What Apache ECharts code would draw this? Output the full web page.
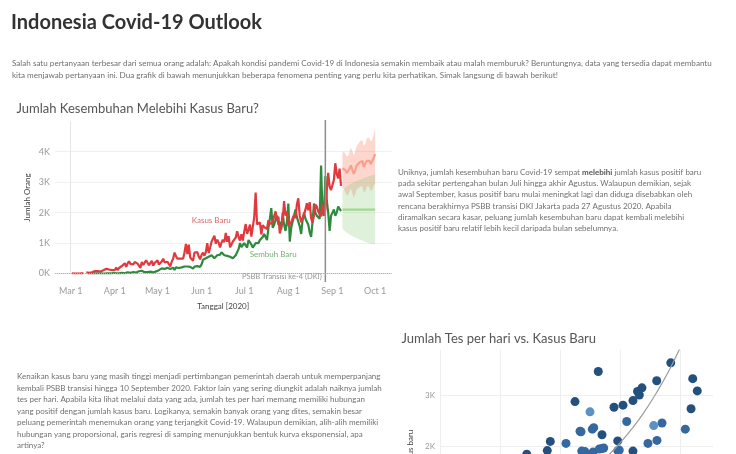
<!DOCTYPE html>
<html><head><meta charset="utf-8">
<script src="https://cdn.jsdelivr.net/npm/echarts@6/dist/echarts.min.js"></script>
<style>html,body{margin:0;padding:0;background:#fff}#c{width:736px;height:454px}</style>
</head><body><div id="c"></div>
<script>
// ---------- DATA ----------
// x values are days since 1 March 2020
const xTickDays   = [0, 31, 61, 92, 122, 153, 184, 214];
const xTickLabels = ['Mar 1','Apr 1','May 1','Jun 1','Jul 1','Aug 1','Sep 1','Oct 1'];

const kasusStartDay = 1;   // 2 Mar 2020
const kasusBaru = [
  2,0,0,2,0,2,2,13,8,null,35,27,21,17,38,55,82,60,81,64,65,106,105,103,153,109,130,129,114,149,
  113,196,106,181,218,247,218,337,219,330,399,316,282,297,380,407,325,327,185,375,283,357,436,396,275,214,415,260,347,347,
  433,292,349,395,484,367,336,386,387,233,387,484,689,568,490,529,489,496,486,693,973,634,949,526,479,415,686,687,700,557,467,
  609,684,585,703,993,672,847,1043,1014,1241,979,1111,1014,857,1017,1106,1031,1331,1041,1226,862,954,1051,1113,1178,1385,1198,1082,1293,1082,
  1385,1624,1301,1447,1607,1209,1268,1853,2657,1611,1671,1681,1282,1591,1522,1574,1462,1752,1639,1693,1655,1882,2040,1761,1868,1315,1525,1748,2381,1904,2040,
  1560,1519,1679,1815,1922,1815,2277,2473,1893,1687,1693,1942,2098,2307,2081,2345,1821,1673,1902,2266,2197,2037,2079,1877,2300,1900,2100,2719,3308,2858,2743,
  2775,3075,3622,3269,3128,3444,2880
];

const sembuhStartDay = 12; // 13 Mar 2020
const sembuhBaru = [
  3,0,1,0,4,2,3,0,3,3,1,0,0,3,2,0,1,13,16,
  22,9,15,5,11,18,6,6,27,41,18,22,45,48,40,32,65,73,56,91,51,42,44,48,43,61,41,35,82,69,
  120,110,150,170,200,150,160,190,130,150,170,190,120,200,230,180,190,200,170,230,200,230,210,220,250,160,230,200,240,300,220,
  300,450,470,500,480,550,520,600,560,500,540,600,650,620,700,640,600,550,580,570,550,540,500,520,600,650,800,1000,870,900,
  1000,950,850,1100,1050,950,850,800,1000,1050,1000,1100,1050,1200,1300,1350,1100,1500,1800,2150,1500,1600,1750,1900,1600,1700,1450,2000,1600,1400,1700,
  2300,1050,1500,1700,1900,2100,1850,1800,1550,1300,1750,2000,1800,1700,1600,1350,1200,1700,2300,2000,1900,1900,1800,3550,2000,1900,3200,2400,2000,1400,1900,
  2000,2100,1900,2000,2200,2150,2050
];

const forecastStartDay = 191; // 8 Sep 2020 .. 1 Oct 2020
const kasusForecast = [3450,3500,3400,3300,3300,3450,3550,3400,3270,3400,3550,3600,3650,3700,3700,3500,3550,3700,3760,3700,3600,3650,3800,3920];
const kasusUpper    = [3950,4020,3930,3850,3860,4020,4140,4000,3880,4020,4190,4250,4310,4370,4380,4190,4250,4410,4480,4430,4340,4400,4560,4780];
const kasusLower    = [2750,2790,2680,2570,2560,2700,2790,2630,2490,2610,2750,2790,2830,2870,2860,2650,2690,2830,2880,2810,2700,2740,2880,2950];
const sembuhForecast= [2100,2100,2100,2100,2100,2100,2100,2100,2100,2100,2100,2100,2100,2100,2100,2100,2100,2100,2100,2100,2100,2100,2100,2100];
const sembuhUpper   = [2720,2780,2820,2860,2890,2920,2950,2970,3000,3020,3040,3060,3080,3100,3120,3140,3160,3170,3190,3200,3220,3230,3240,3250];
const sembuhLower   = [1480,1420,1380,1340,1310,1280,1250,1230,1200,1180,1160,1140,1120,1100,1080,1060,1040,1030,1010,1000,980,970,960,950];

const psbbDay = 179; // 27 Aug 2020

// Scatter: [tes per hari, kasus baru, shade]
const tesVsKasus = [
  [13190,3460,2],[19230,3630,2],[18060,3280,2],[21060,3320,2],[21440,3080,2],[20920,2730,2],
  [20440,2330,1],[18500,2450,1],[17810,2400,0],[18080,2110,1],[17330,2050,1],[16830,3140,2],
  [16460,3070,2],[16610,3000,2],[16080,2890,2],[15250,2800,2],[14500,2760,2],[11250,2870,2],
  [12500,2670,0],[15560,2480,1],[13500,2220,2],[12690,2330,1],[12810,2360,1],[11670,2290,1],
  [11750,2280,1],[9190,2090,2],[10500,2050,1],[8940,1910,2],[7230,1840,2],[11810,1900,1],
  [12080,1890,1],[12750,1880,1],[13280,1940,1],[13500,1950,1],[13640,1960,1],[14810,1910,1],
  [14940,1920,1],[14810,2100,2],[16080,1900,2]
];
const trendLine = [[13000,1590],[14000,1810],[15000,2060],[16000,2340],[17000,2660],[18000,3030],[19000,3440],[20000,3920]];

// ---------- TEXT ----------
const introText = [
  'Salah satu pertanyaan terbesar dari semua orang adalah: Apakah kondisi pandemi Covid-19 di Indonesia semakin membaik atau malah memburuk? Beruntungnya, data yang tersedia dapat membantu',
  'kita menjawab pertanyaan ini. Dua grafik di bawah menunjukkan beberapa fenomena penting yang perlu kita perhatikan. Simak langsung di bawah berikut!'
];
const rightText = [
  'Uniknya, jumlah kesembuhan baru Covid-19 sempat {b|melebihi} jumlah kasus positif baru',
  'pada sekitar pertengahan bulan Juli hingga akhir Agustus. Walaupun demikian, sejak',
  'awal September, kasus positif baru mulai meningkat lagi dan diduga disebabkan oleh',
  'rencana berakhirnya PSBB transisi DKI Jakarta pada 27 Agustus 2020. Apabila',
  'diramalkan secara kasar, peluang jumlah kesembuhan baru dapat kembali melebihi',
  'kasus positif baru relatif lebih kecil daripada bulan sebelumnya.'
];
const bottomText = [
  'Kenaikan kasus baru yang masih tinggi menjadi pertimbangan pemerintah daerah untuk memperpanjang',
  'kembali PSBB transisi hingga 10 September 2020. Faktor lain yang sering diungkit adalah naiknya jumlah',
  'tes per hari. Apabila kita lihat melalui data yang ada, jumlah tes per hari memang memiliki hubungan',
  'yang positif dengan jumlah kasus baru. Logikanya, semakin banyak orang yang dites, semakin besar',
  'peluang pemerintah menemukan orang yang terjangkit Covid-19. Walaupun demikian, alih-alih memiliki',
  'hubungan yang proporsional, garis regresi di samping menunjukkan bentuk kurva eksponensial, apa',
  'artinya?',
  'Kurva yang semakin curam menunjukkan bahwa peningkatan jumlah tes yang sedikit diikuti dengan'
];

// ---------- BUILD ----------
const F = 'Lato';
const seq = (start, arr) => arr.map((v, i) => [start + i, v]);
const xMin = -11.04, xMax = 225.5;
const shadeColors = ['#5d91c6', '#3568a0', '#24507e'];

function bandSeries(name, lower, upper, color) {
  const data = lower.map((lo, i) => [forecastStartDay + i, lo, upper[i]]);
  return {
    type: 'custom', name, xAxisIndex: 0, yAxisIndex: 0, silent: true, data,
    encode: {x: 0, y: [1, 2]},
    renderItem: (params, api) => {
      if (params.dataIndex !== 0) return null;
      const top = data.map(d => api.coord([d[0], d[2]]));
      const bot = data.map(d => api.coord([d[0], d[1]])).reverse();
      return {type: 'polygon', shape: {points: top.concat(bot)}, style: {fill: color}};
    }
  };
}

const chart = echarts.init(document.getElementById('c'), null, {renderer: 'canvas', width: 736, height: 454});

chart.setOption({
  animation: false,
  backgroundColor: '#ffffff',
  textStyle: {fontFamily: F},
  grid: [
    {left: 55, right: 344.5, top: 121.6, bottom: 180.5},
    {left: 55, right: 344.5, top: 120, bottom: 172},
    {left: 440, top: 350, width: 273, bottom: 0}
  ],
  xAxis: [
    {gridIndex: 0, type: 'value', min: xMin, max: xMax, offset: 8,
     axisLine: {show: true, lineStyle: {color: '#e4e4e4'}}, axisTick: {show: false}, splitLine: {show: false},
     axisLabel: {customValues: xTickDays, color: '#9a9a9a', fontSize: 9, fontFamily: F, margin: 5,
       formatter: v => { const i = xTickDays.indexOf(Math.round(v)); return i >= 0 ? xTickLabels[i] : ''; }},
     name: 'Tanggal [2020]', nameLocation: 'middle', nameGap: 21,
     nameTextStyle: {color: '#444', fontSize: 8, fontFamily: F}},
    {gridIndex: 1, type: 'value', min: xMin, max: xMax, show: false},
    {gridIndex: 2, type: 'value', min: 0, max: 22750, interval: 5000,
     axisLine: {show: false}, axisTick: {show: false},
     axisLabel: {show: false},
     splitLine: {show: true, showMaxLine: false, lineStyle: {color: '#eeeeee'}}}
  ],
  yAxis: [
    {gridIndex: 0, type: 'value', min: 0, max: 4990, interval: 1000,
     axisLine: {show: true, lineStyle: {color: '#e4e4e4'}}, axisTick: {show: false},
     axisLabel: {color: '#9a9a9a', fontSize: 9, fontFamily: F, margin: 5, showMaxLabel: false,
       formatter: v => (v / 1000) + 'K'},
     splitLine: {show: true, showMinLine: false, showMaxLine: false, lineStyle: {color: '#f0f0f0'}},
     name: 'Jumlah Orang', nameLocation: 'middle', nameGap: 24,
     nameTextStyle: {color: '#444', fontSize: 8, fontFamily: F}},
    {gridIndex: 1, type: 'value', min: 0, max: 1, show: false},
    {gridIndex: 2, type: 'value', min: 1843, max: 3882, minInterval: 1000, maxInterval: 1000, splitNumber: 2,
     axisLine: {show: false}, axisTick: {show: false},
     axisLabel: {color: '#9a9a9a', fontSize: 8, fontFamily: F, margin: 5, showMaxLabel: false, showMinLabel: false,
       formatter: v => (v / 1000) + 'K'},
     splitLine: {show: true, showMinLine: false, showMaxLine: false, lineStyle: {color: '#eeeeee'}}}
  ],
  series: [
    bandSeries('Kasus Band', kasusLower, kasusUpper, 'rgba(249,140,115,0.35)'),
    bandSeries('Sembuh Band', sembuhLower, sembuhUpper, 'rgba(120,195,105,0.24)'),
    {name: 'Sembuh Forecast', type: 'line', xAxisIndex: 0, yAxisIndex: 0, showSymbol: false, symbol: 'none', silent: true,
     data: seq(forecastStartDay, sembuhForecast), lineStyle: {color: '#a2d98f', width: 2.2}},
    {name: 'Kasus Forecast', type: 'line', xAxisIndex: 0, yAxisIndex: 0, showSymbol: false, symbol: 'none', silent: true,
     data: seq(forecastStartDay, kasusForecast), lineStyle: {color: '#f9a08c', width: 2.2}},
    {name: 'Sembuh Baru', type: 'line', xAxisIndex: 0, yAxisIndex: 0, showSymbol: false, symbol: 'none', silent: true,
     data: seq(sembuhStartDay, sembuhBaru), lineStyle: {color: '#2f8a3d', width: 2.2}},
    {name: 'Kasus Baru', type: 'line', xAxisIndex: 0, yAxisIndex: 0, showSymbol: false, symbol: 'none', silent: true,
     data: seq(kasusStartDay, kasusBaru), lineStyle: {color: '#e0393e', width: 2.2}},
    {name: 'PSBB', type: 'line', xAxisIndex: 1, yAxisIndex: 1, showSymbol: false, symbol: 'none', silent: true,
     data: [[psbbDay, 0], [psbbDay, 1]], lineStyle: {color: '#8e8e8e', width: 1.5}},
    {name: 'helper', type: 'scatter', xAxisIndex: 0, yAxisIndex: 0, silent: true, symbolSize: 1,
     itemStyle: {color: 'rgba(0,0,0,0)'},
     data: [[psbbDay - 0.8, 0]],
     label: {show: true, position: 'left', distance: 2, offset: [0, 3], formatter: 'PSBB Transisi ke-4 (DKI)',
       color: '#7a7a7a', fontSize: 7.5, fontFamily: F},
     markLine: {symbol: 'none', silent: true, label: {show: false},
       lineStyle: {type: 'dotted', color: '#b0b0b0', width: 1},
       data: [{yAxis: 0}]}},
    {name: 'labels', type: 'scatter', xAxisIndex: 0, yAxisIndex: 0, silent: true, symbolSize: 1,
     itemStyle: {color: 'rgba(0,0,0,0)'},
     data: [
       {value: [98.8, 1740], label: {formatter: 'Kasus Baru', color: '#e0393e'}},
       {value: [142.3, 615], label: {formatter: 'Sembuh Baru', color: '#4a9d47'}}
     ],
     label: {show: true, position: 'inside', fontSize: 8, fontFamily: F}},
    {name: 'Tes vs Kasus', type: 'scatter', xAxisIndex: 2, yAxisIndex: 2, silent: true, symbolSize: 9, clip: false,
     data: tesVsKasus,
     itemStyle: {opacity: 1, color: p => shadeColors[p.data[2]]}},
    {name: 'Trend', type: 'line', xAxisIndex: 2, yAxisIndex: 2, silent: true, showSymbol: false, symbol: 'none', smooth: true,
     data: trendLine, lineStyle: {color: '#9c9c9c', width: 1.2}}
  ],
  graphic: [
    {type: 'text', x: 11, y: 23, silent: true,
     style: {text: 'Indonesia Covid-19 Outlook', fontSize: 20, fontWeight: 'bold', fontFamily: F, fill: '#333', verticalAlign: 'middle'}},
    {type: 'text', x: 12, y: 57, silent: true,
     style: {text: introText.join('\n'), fontSize: 8.1, fontFamily: F, fill: '#707070', lineHeight: 12, verticalAlign: 'top'}},
    {type: 'text', x: 16.5, y: 108.5, silent: true,
     style: {text: 'Jumlah Kesembuhan Melebihi Kasus Baru?', fontSize: 13, fontFamily: F, fill: '#555', verticalAlign: 'middle'}},
    {type: 'text', x: 398, y: 166.5, silent: true,
     style: {text: rightText.join('\n'), fontSize: 8, fontFamily: F, fill: '#707070', lineHeight: 11.3, verticalAlign: 'top',
       rich: {b: {fontSize: 8, fontFamily: F, fontWeight: 'bold', fill: '#555', lineHeight: 11.3}}}},
    {type: 'text', x: 17, y: 371, silent: true,
     style: {text: bottomText.join('\n'), fontSize: 8, fontFamily: F, fill: '#707070', lineHeight: 11.5, verticalAlign: 'top'}},
    {type: 'text', x: 401.5, y: 338.5, silent: true,
     style: {text: 'Jumlah Tes per hari vs. Kasus Baru', fontSize: 13, fontFamily: F, fill: '#555', verticalAlign: 'middle'}},
    {type: 'text', x: 410, y: 449, rotation: Math.PI / 2, silent: true,
     style: {text: 'Kasus baru', fontSize: 8, fontFamily: F, fill: '#444', align: 'center', verticalAlign: 'middle'}}
  ]
});
</script></body></html>
